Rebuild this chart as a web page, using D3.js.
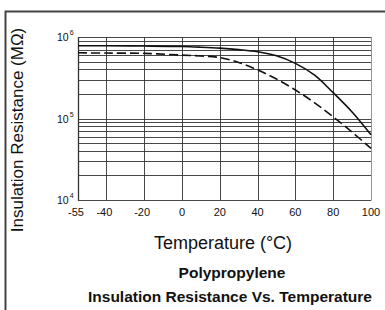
<!DOCTYPE html>
<html>
<head>
<meta charset="utf-8">
<script src="https://cdn.jsdelivr.net/npm/d3@7"></script>
<style>
  body { margin: 0; background: #fff; }
  text { font-family: "Liberation Sans", Arial, sans-serif; fill: #111; }
</style>
</head>
<body>
<div class="canvas"></div>
<script>
// data
const temps = [-55, -40, -20, 0, 10, 20, 30, 40, 50, 60, 70, 80, 90, 100];
const solidVals = [7.8e5, 7.8e5, 7.75e5, 7.65e5, 7.5e5, 7.3e5, 7.0e5, 6.6e5, 5.88e5, 4.75e5, 3.42e5, 2.07e5, 1.2e5, 6.3e4];
const dashedVals = [6.4e5, 6.35e5, 6.3e5, 6.0e5, 5.85e5, 5.6e5, 4.87e5, 3.94e5, 3.05e5, 2.24e5, 1.57e5, 1.05e5, 6.8e4, 4.3e4];
const xTicks = [-55, -40, -20, 0, 20, 40, 60, 80, 100];
const yDecades = [4, 5, 6];

const dims = { width: 385, height: 310 };
const plot = { left: 78, right: 371, top: 37, bottom: 200 };

const svg = d3
  .select(".canvas")
  .append("svg")
  .attr("width", dims.width)
  .attr("height", dims.height);

// outer frame (left and top edges only)
svg.append("path")
  .attr("d", "M5.5,310 V11.5 H385")
  .attr("fill", "none")
  .attr("stroke", "#444")
  .attr("stroke-width", 2);

const x = d3.scaleLinear().domain([-55, 100]).range([plot.left, plot.right]);
const y = d3.scaleLog().domain([1e4, 1e6]).range([plot.bottom, plot.top]);

const grid = svg.append("g");

// horizontal log grid (every 1..9 in each decade)
const hLines = [];
for (let e = 4; e < 6; e++) {
  for (let m = 1; m < 10; m++) hLines.push(m * Math.pow(10, e));
}
hLines.push(1e6);

grid.selectAll("line.h")
  .data(hLines)
  .enter()
  .append("line")
  .attr("class", "h")
  .attr("x1", plot.left)
  .attr("x2", plot.right)
  .attr("y1", (d) => Math.round(y(d)) + 0.5)
  .attr("y2", (d) => Math.round(y(d)) + 0.5)
  .attr("stroke", "#333")
  .attr("stroke-width", 0.9);

// vertical grid
grid.selectAll("line.v")
  .data(xTicks)
  .enter()
  .append("line")
  .attr("class", "v")
  .attr("x1", (d) => Math.round(x(d)) + 0.5)
  .attr("x2", (d) => Math.round(x(d)) + 0.5)
  .attr("y1", plot.top)
  .attr("y2", plot.bottom + 0.5)
  .attr("stroke", (d) => (d === 100 ? "#888" : "#333"))
  .attr("stroke-width", (d) => (d === -55 ? 1.3 : 0.9));

// x tick labels
svg.append("g")
  .selectAll("text")
  .data(xTicks)
  .enter()
  .append("text")
  .attr("x", (d) => x(d) - (d < 0 ? 2 : 0))
  .attr("y", 216)
  .attr("text-anchor", "middle")
  .attr("font-size", 11)
  .text((d) => d);

// y tick labels 10^n
const yLab = svg.append("g")
  .selectAll("text")
  .data(yDecades)
  .enter()
  .append("text")
  .attr("x", 57)
  .attr("y", (d) => y(Math.pow(10, d)) + 4)
  .attr("font-size", 10.5);
yLab.append("tspan").text("10");
yLab.append("tspan")
  .attr("dy", -6)
  .attr("dx", 1)
  .attr("font-size", 7)
  .text((d) => d);

// curves
const line = (vals) =>
  d3.line()
    .x((d, i) => x(temps[i]))
    .y((d) => y(d))
    .curve(d3.curveCatmullRom.alpha(0.5))(vals);

svg.append("path")
  .attr("d", line(solidVals))
  .attr("fill", "none")
  .attr("stroke", "#111")
  .attr("stroke-width", 1.6);

svg.append("path")
  .attr("d", line(dashedVals))
  .attr("fill", "none")
  .attr("stroke", "#111")
  .attr("stroke-width", 1.6)
  .attr("stroke-dasharray", "9,4");

// axis titles
svg.append("text")
  .attr("transform", "translate(23,130) rotate(-90)")
  .attr("text-anchor", "middle")
  .attr("font-size", 17)
  .text("Insulation Resistance (MΩ)");

svg.append("text")
  .attr("x", 223)
  .attr("y", 249)
  .attr("text-anchor", "middle")
  .attr("font-size", 18)
  .text("Temperature (°C)");

// chart title
svg.append("text")
  .attr("x", 232)
  .attr("y", 278)
  .attr("text-anchor", "middle")
  .attr("font-size", 15.5)
  .attr("font-weight", "bold")
  .text("Polypropylene");

svg.append("text")
  .attr("x", 230)
  .attr("y", 302)
  .attr("text-anchor", "middle")
  .attr("font-size", 15.5)
  .attr("font-weight", "bold")
  .text("Insulation Resistance Vs. Temperature");
</script>
</body>
</html>
